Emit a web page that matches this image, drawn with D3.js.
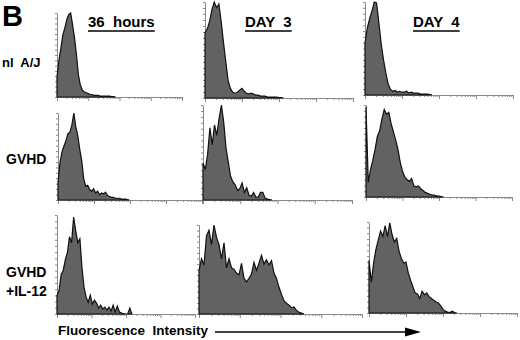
<!DOCTYPE html>
<html>
<head>
<meta charset="utf-8">
<script src="https://cdn.jsdelivr.net/npm/d3@7"></script>
<style>
  body { margin: 0; background: #fff; }
  svg text { font-family: "Liberation Sans", Arial, sans-serif; font-weight: bold; white-space: pre; }
</style>
</head>
<body>
<div id="chart"></div>
<script>
// relative cell counts (% of panel max) per fluorescence channel bin
const nlAJ_36h  = [24,44,58,74,82,92,98,100,86,70,50,26,14,8,6,5,4,3,3,2,2,2,1,1,1,1,1,1,0.5,0.5,0];
const nlAJ_day3 = [68,72,80,92,100,94,98,80,58,38,18,10,6,5,6,8,10,7,5,4,5,4,3,3,2,2,2,1,1,1,1,1,0.5,0.5,0];
const nlAJ_day4 = [56,72,82,90,100,99,78,55,38,24,12,6,4,5,3,4,3,3,4,2,3,2,2,2,1,1,1,1,0.5,0];
const gvhd_36h  = [20,43,55,62,68,76,78,86,100,84,74,58,45,24,16,17,12,10,13,8,10,6,8,7,9,5,4,3,3,2,2,2,1,1,1,0.5,0];
const gvhd_day3 = [39,32,48,76,58,79,68,86,100,82,55,40,25,19,16,10,12,18,8,13,5,4,8,3,3,8,8,2,1,0.5,0];
const gvhd_day4 = [98,16,30,40,52,66,72,85,95,90,92,80,71,62,52,38,28,22,19,17,20,12,11,12,9,7,5,4,3,2,2,1,1,0.5,0];
const il12_36h  = [19,24,40,44,55,62,78,72,98,84,72,76,47,27,17,12,19,10,14,11,6,9,5,7,4,7,3,9,2,8,2,1,0.5,0,0,6,0];
const il12_day3 = [49,62,55,88,94,78,100,86,78,62,80,52,62,52,50,46,44,57,40,36,40,45,58,49,57,66,56,61,55,60,46,40,30,22,15,12,10,7,8,4,2,1,0];
const il12_day4 = [58,34,55,70,80,90,84,96,84,99,86,78,82,68,60,55,56,44,36,29,22,21,16,24,20,22,18,16,14,12,11,8,4,2,1,0.5,2,0.5,0];

const series = [
  [nlAJ_36h, nlAJ_day3, nlAJ_day4],
  [gvhd_36h, gvhd_day3, gvhd_day4],
  [il12_36h, il12_day3, il12_day4]
];
const colLabels = ["36  hours", "DAY  3", "DAY  4"];
const rowLabels = [["nl  A/J"], ["GVHD"], ["GVHD", "+IL-12"]];
const nBins = 64;

// panel frames: axis x start/end, top, baseline, px per bin
const layout = [
  [{x0:57,x1:182,top:13,base:97,bw:1.95}, {x0:205,x1:353,top:2,base:98,bw:2.31}, {x0:365,x1:513,top:2,base:95,bw:2.31}],
  [{x0:58,x1:202,top:113,base:200,bw:1.98}, {x0:203,x1:352,top:105,base:200,bw:2.3}, {x0:366,x1:512,top:105,base:197,bw:2.28}],
  [{x0:57,x1:195,top:215,base:314,bw:2.08}, {x0:199,x1:362,top:225,base:314,bw:2.5}, {x0:369,x1:517,top:222,base:313,bw:2.31}]
];
const colLabelX = [88, 245, 413];
const rowLabelY = [[67], [164], [277, 296]];

const W = 520, H = 340;
const svg = d3.select("#chart").append("svg")
  .attr("width", W).attr("height", H);

svg.append("text")
  .attr("x", 2).attr("y", 26)
  .attr("font-size", "29px")
  .text("B");

series.forEach((row, r) => {
  row.forEach((vals, c) => {
    const p = layout[r][c];
    const x = d3.scaleLinear().domain([0, nBins]).range([p.x0, p.x0 + nBins * p.bw]);
    const y = d3.scaleLinear().domain([0, 100]).range([p.base, p.top]);
    const logX = d3.scaleLog().domain([1, 1e4]).range([p.x0, p.x1]);
    const g = svg.append("g");

    // x axis (log decades)
    const xa = g.append("g")
      .attr("transform", `translate(0,${p.base})`)
      .call(d3.axisBottom(logX).tickValues(logX.ticks()).tickSize(2).tickSizeOuter(0).tickFormat(""));
    xa.selectAll(".tick line")
      .attr("y2", d => Math.abs(Math.log10(d) % 1) < 1e-9 ? 4 : 2);

    // y axis
    g.append("g")
      .attr("transform", `translate(${p.x0},0)`)
      .call(d3.axisLeft(y).tickValues(d3.range(0, 100.1, 6.25)).tickSize(2).tickSizeOuter(0).tickFormat(""));

    g.selectAll(".domain").attr("stroke", "#8a8a8a");
    g.selectAll(".tick line").attr("stroke", "#8a8a8a");

    const area = d3.area()
      .x((d, i) => x(i))
      .y0(p.base)
      .y1(d => y(d));
    g.append("path")
      .datum(vals)
      .attr("d", area)
      .attr("fill", "#626262")
      .attr("stroke", "#111")
      .attr("stroke-width", 1.2)
      .attr("stroke-linejoin", "miter");
  });
});

// column titles, underlined
colLabels.forEach((t, i) => {
  const txt = svg.append("text")
    .attr("x", colLabelX[i]).attr("y", 27)
    .attr("font-size", "15px")
    .text(t);
  const w = txt.node().getComputedTextLength();
  svg.append("line")
    .attr("x1", colLabelX[i]).attr("x2", colLabelX[i] + w)
    .attr("y1", 31).attr("y2", 31)
    .attr("stroke", "#000").attr("stroke-width", 1.5);
});

// row labels
rowLabels.forEach((lines, r) => {
  lines.forEach((t, k) => {
    svg.append("text")
      .attr("x", r === 0 ? 2 : 6).attr("y", rowLabelY[r][k])
      .attr("font-size", r === 0 ? "13px" : "14px")
      .text(t);
  });
});

// x axis caption with arrow
svg.append("text")
  .attr("x", 58).attr("y", 335)
  .attr("font-size", "13.5px")
  .text("Fluorescence  Intensity");

svg.append("line")
  .attr("x1", 215).attr("x2", 408)
  .attr("y1", 332).attr("y2", 332)
  .attr("stroke", "#000").attr("stroke-width", 1.5);
svg.append("path")
  .attr("d", "M405,327.5 L421,332 L405,336.5 Z")
  .attr("fill", "#000");
</script>
</body>
</html>
